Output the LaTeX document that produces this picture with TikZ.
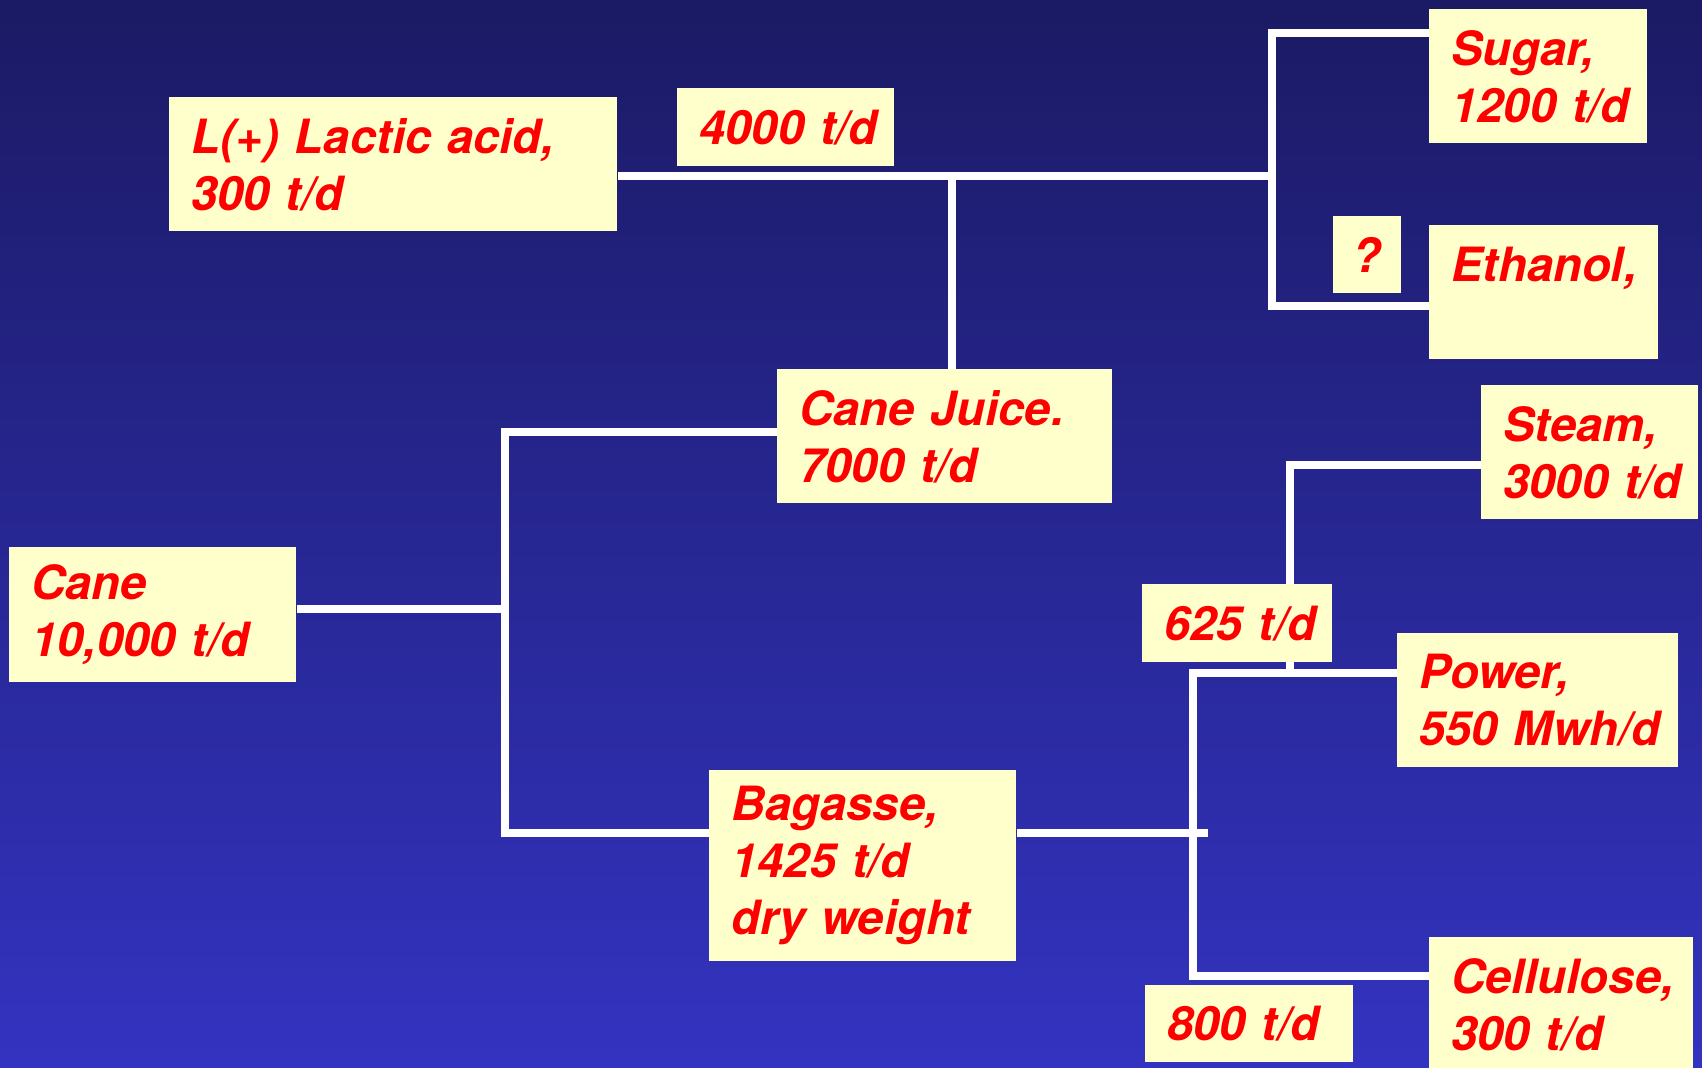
\documentclass[tikz,border=0pt]{standalone}
\usepackage{fontspec}
\setmainfont{TeX Gyre Heros}
\usepackage{xcolor}
\usepackage{tikz}
\usetikzlibrary{shapes}
\pgfdeclarelayer{background}
\pgfsetlayers{background, main}
\definecolor{bgtop}{RGB}{27,26,100}
\definecolor{bgbot}{RGB}{51,51,193}
\definecolor{boxfill}{RGB}{255,255,204}
\definecolor{boxtext}{RGB}{255,0,0}
\tikzstyle{box} = [fill=boxfill, text=boxtext, rectangle, anchor=north west, inner xsep=11pt, inner ysep=0pt, align=left, font=\bfseries\itshape\fontsize{23.6}{28.5}\selectfont]
\tikzstyle{flow} = [draw=white, line width=3.9pt]

\begin{document}
\begin{tikzpicture}[x=0.5pt, y=-0.5pt]
  \useasboundingbox (0, 0) rectangle (1702, 1067);

  \node[box, text width=202pt, minimum height=67pt] at (169, 97) (lactic) {L(+)~Lactic~acid,\\300~t/d};
  \node[box, text width=86.5pt, minimum height=39pt] at (677, 88) (amt4000) {4000~t/d};
  \node[box, text width=87pt, minimum height=67pt] at (1429, 9) (sugar) {Sugar,\\1200~t/d};
  \node[box, inner xsep=0pt, minimum width=34pt, minimum height=38.5pt, align=center] at (1333, 216) (quest) {?};
  \node[box, text width=92.5pt, minimum height=67pt] at (1429, 225) (ethanol) {Ethanol,\\\mbox{}};
  \node[box, text width=145.5pt, minimum height=67pt] at (777, 369) (juice) {Cane~Juice.\\7000~t/d};
  \node[box, text width=121.5pt, minimum height=67.5pt] at (9, 547) (cane) {Cane\\10,000~t/d};
  \node[box, text width=131.5pt, minimum height=95.5pt] at (709, 770) (bagasse) {Bagasse,\\1425~t/d\\dry~weight};
  \node[box, text width=86.5pt, minimum height=67pt] at (1481, 385) (steam) {Steam,\\3000~t/d};
  \node[box, text width=73pt, minimum height=39pt] at (1142, 584) (amt625) {625~t/d};
  \node[box, text width=118.5pt, minimum height=67pt] at (1397, 633) (power) {Power,\\550~Mwh/d};
  \node[box, text width=110pt, minimum height=67pt] at (1429, 937) (cellulose) {Cellulose,\\300~t/d};
  \node[box, text width=82pt, minimum height=38.5pt] at (1145, 985) (amt800) {800~t/d};

  \coordinate (jtop) at (952, 176);
  \coordinate (jright) at (1272, 176);
  \coordinate (jsugar) at (1272, 33);
  \coordinate (jethanol) at (1272, 306);
  \coordinate (jleft) at (505, 609);
  \coordinate (jjuice) at (505, 432);
  \coordinate (jbag) at (505, 833);
  \coordinate (jbagend) at (1208, 833);
  \coordinate (jpower) at (1193, 673);
  \coordinate (jcell) at (1193, 976);
  \coordinate (jsteam) at (1290, 465);

  \begin{pgfonlayer}{background}
    \shade[top color=bgtop, bottom color=bgbot] (0, 0) rectangle (1702, 1067);
    \draw[flow] (lactic.east |- jtop) -- (jright);
    \draw[flow] (jtop) -- (juice.north -| jtop);
    \draw[flow] (sugar.west |- jsugar) -- (jsugar) -- (jethanol) -- (ethanol.west |- jethanol);
    \draw[flow] (cane.east |- jleft) -- (jleft);
    \draw[flow] (juice.west |- jjuice) -- (jjuice) -- (jbag) -- (bagasse.west |- jbag);
    \draw[flow] (bagasse.east |- jbag) -- (jbagend);
    \draw[flow] (power.west |- jpower) -- (jpower) -- (jcell) -- (cellulose.west |- jcell);
    \draw[flow] (steam.west |- jsteam) -- (jsteam) -- (jsteam |- jpower);
  \end{pgfonlayer}

\end{tikzpicture}
\end{document}
